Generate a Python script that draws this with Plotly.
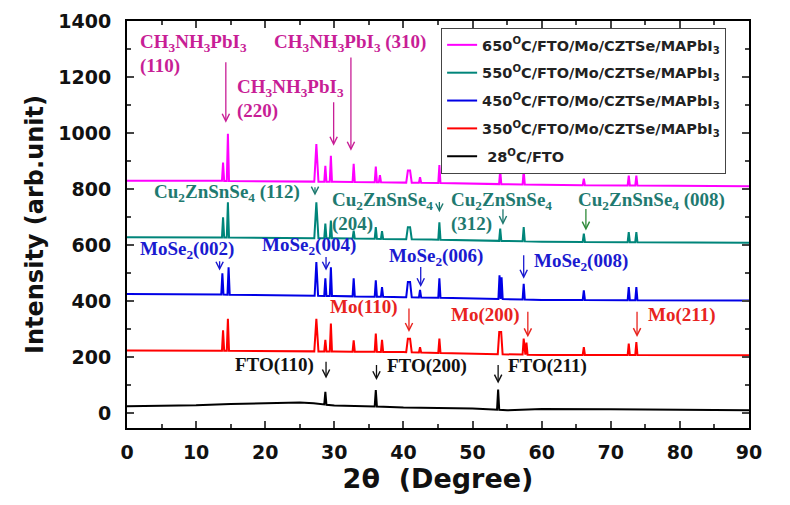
import numpy as np
import plotly.graph_objects as go

# ---------------- data ----------------
SERIES_NAMES = [
    "650<sup>O</sup>C/FTO/Mo/CZTSe/MAPbI<sub>3</sub>",
    "550<sup>O</sup>C/FTO/Mo/CZTSe/MAPbI<sub>3</sub>",
    "450<sup>O</sup>C/FTO/Mo/CZTSe/MAPbI<sub>3</sub>",
    "350<sup>O</sup>C/FTO/Mo/CZTSe/MAPbI<sub>3</sub>",
    " 28<sup>O</sup>C/FTO",
]

# background level (2theta, intensity) for each pattern
bg_650_x = [0, 10, 20, 30, 44, 60, 90]
bg_650_y = [830, 830, 828, 826, 822, 815, 810]
bg_550_x = [0, 10, 20, 30, 44, 60, 90]
bg_550_y = [628, 628, 626, 624, 620, 612, 608]
bg_450_x = [0, 10, 20, 30, 40, 50, 60, 90]
bg_450_y = [425, 424, 422, 418, 414, 410, 404, 402]
bg_350_x = [0, 10, 20, 30, 40, 50, 60, 90]
bg_350_y = [224, 223, 222, 220, 218, 212, 208, 207]
bg_28_x = [0, 10, 15, 20, 25, 27, 30, 35, 40, 50, 53, 55, 60, 70, 80, 90]
bg_28_y = [25, 28, 33, 36, 38, 35, 27, 25, 20, 17, 13, 10, 15, 14, 12, 10]

# peak positions (2theta) and peak-top intensities
pk_650_x = [13.9, 14.6, 27.4, 28.7, 29.5, 32.8, 36.0, 36.6, 40.8, 42.4, 45.2, 54.0, 57.4, 66.1, 72.6, 73.7]
pk_650_y = [895, 997, 961, 883, 919, 890, 880, 850, 866, 842, 886, 866, 866, 837, 848, 848]
pk_550_x = [13.9, 14.6, 27.4, 28.7, 29.5, 32.8, 36.0, 36.9, 40.8, 45.2, 54.0, 57.4, 66.1, 72.6, 73.7]
pk_550_y = [699, 753, 753, 677, 688, 652, 664, 650, 664, 681, 659, 664, 641, 646, 646]
pk_450_x = [13.8, 14.7, 27.4, 28.7, 29.5, 32.8, 36.0, 36.9, 40.8, 42.4, 45.2, 53.9, 54.2, 57.4, 66.1, 72.6, 73.7]
pk_450_y = [499, 521, 539, 481, 521, 481, 474, 450, 468, 440, 481, 492, 485, 462, 438, 450, 450]
pk_350_x = [13.9, 14.6, 27.4, 28.7, 29.5, 32.8, 36.0, 36.9, 40.8, 42.4, 45.2, 54.0, 57.4, 57.8, 66.1, 72.6, 73.7]
pk_350_y = [296, 337, 337, 262, 320, 260, 284, 262, 266, 235, 266, 290, 266, 252, 236, 248, 254]
pk_28_x = [28.7, 36.0, 53.7]
pk_28_y = [76, 82, 84]

# peak half-widths (degrees); broad peaks per pattern
broad_650 = {27.4: 0.3, 40.8: 0.4}
broad_550 = {27.4: 0.3, 40.8: 0.4}
broad_450 = {27.4: 0.25, 40.8: 0.4}
broad_350 = {27.4: 0.3, 40.8: 0.4, 54.0: 0.35}
broad_28 = {}
NARROW_HW = 0.16

COLORS = ["#ff00ff", "#00857a", "#0000e6", "#ff0000", "#000000"]


def pattern(bgx, bgy, px, py, broad):
    pts = list(zip(bgx, bgy))
    for p, top in zip(px, py):
        hw = broad.get(p, NARROW_HW)
        b1 = float(np.interp(p - hw, bgx, bgy))
        b2 = float(np.interp(p + hw, bgx, bgy))
        if p in broad and p != 27.4:
            pts += [(p - hw, b1), (p - hw * 0.4, top), (p + hw * 0.4, top), (p + hw, b2)]
        else:
            pts += [(p - hw, b1), (p, top), (p + hw, b2)]
    pts.sort(key=lambda t: t[0])
    return [t[0] for t in pts], [t[1] for t in pts]


series = [
    (bg_650_x, bg_650_y, pk_650_x, pk_650_y, broad_650),
    (bg_550_x, bg_550_y, pk_550_x, pk_550_y, broad_550),
    (bg_450_x, bg_450_y, pk_450_x, pk_450_y, broad_450),
    (bg_350_x, bg_350_y, pk_350_x, pk_350_y, broad_350),
    (bg_28_x, bg_28_y, pk_28_x, pk_28_y, broad_28),
]

fig = go.Figure()
for i, (name, s, col) in enumerate(zip(SERIES_NAMES, series, COLORS)):
    x, y = pattern(*s)
    fig.add_trace(go.Scatter(x=x, y=y, mode="lines", name=name, legendgroup=f"g{i}",
                             line=dict(color=col, width=2)))

# ---------------- annotations ----------------
SERIF = "Liberation Serif"
FS = 19
C_MAG = "#c81e96"
C_TEAL = "#1f7a70"
C_BLUE = "#1a1ad0"
C_RED = "#e8231e"
C_BLK = "#111111"

CH = "CH<sub>3</sub>NH<sub>3</sub>PbI<sub>3</sub>"
CZ = "Cu<sub>2</sub>ZnSnSe<sub>4</sub>"
MS = "MoSe<sub>2</sub>"

labels = [
    (CH, 1.6, 1320, C_MAG), ("(110)", 1.6, 1240, C_MAG),
    (CH + " (310)", 21.0, 1320, C_MAG),
    (CH, 15.6, 1162, C_MAG), ("(220)", 15.6, 1080, C_MAG),
    (CZ + " (112)", 3.6, 787, C_TEAL),
    (CZ, 29.4, 758, C_TEAL), ("(204)", 29.4, 676, C_TEAL),
    (CZ, 46.6, 758, C_TEAL), ("(312)", 46.6, 676, C_TEAL),
    (CZ + " (008)", 65.0, 759, C_TEAL),
    (MS + "(002)", 1.6, 583, C_BLUE),
    (MS + "(004)", 19.2, 595, C_BLUE),
    (MS + "(006)", 37.6, 557, C_BLUE),
    (MS + "(008)", 58.6, 538, C_BLUE),
    ("Mo(110)", 29.1, 379, C_RED),
    ("Mo(200)", 46.6, 352, C_RED),
    ("Mo(211)", 75.1, 352, C_RED),
    ("FTO(110)", 15.4, 171, C_BLK),
    ("FTO(200)", 37.3, 167, C_BLK),
    ("FTO(211)", 54.9, 167, C_BLK),
]
for txt, x, y, c in labels:
    fig.add_annotation(x=x, y=y, text=f"<b>{txt}</b>", showarrow=False, xanchor="left",
                       yanchor="middle", font=dict(family=SERIF, size=FS, color=c))

# arrows: (x, tail_y, tip_y, color)
arrows = [
    (14.3, 1258, 1037, C_MAG), (29.9, 1115, 955, C_MAG), (32.4, 1275, 937, C_MAG),
    (27.2, 812, 777, C_TEAL), (45.2, 759, 717, C_TEAL), (54.4, 733, 672, C_TEAL),
    (66.4, 734, 652, "#2f8a3a"),
    (13.4, 548, 509, C_BLUE), (28.8, 563, 509, C_BLUE), (42.5, 527, 450, C_BLUE),
    (57.4, 569, 480, C_BLUE),
    (40.8, 379, 290, C_RED), (58.0, 367, 271, C_RED), (73.8, 367, 272, C_RED),
    (28.8, 189, 124, C_BLK), (36.1, 177, 118, C_BLK), (53.7, 177, 106, C_BLK),
]
for x, ty, hy, c in arrows:
    fig.add_annotation(x=x, y=hy, ax=x, ay=ty, axref="x", ayref="y", text="",
                       showarrow=True, arrowhead=5, arrowsize=1.1, arrowwidth=1.3,
                       arrowcolor=c)

AXFONT = dict(family="DejaVu Sans", size=19, color="#111", weight="bold")
# the page body adds an 8 px offset, so the figure is 8 px smaller on each side
fig.update_layout(
    width=782, height=497,
    margin=dict(l=119, r=41, t=13, b=77, autoexpand=False),
    paper_bgcolor="white", plot_bgcolor="white",
    showlegend=True,
    legend=dict(x=0.505, y=0.983, xanchor="left", yanchor="top",
                bgcolor="white", bordercolor="#444", borderwidth=1,
                traceorder="grouped", tracegroupgap=6,
                font=dict(family="DejaVu Sans", size=14.5, color="#222", weight="bold")),
    xaxis=dict(range=[0, 90], dtick=10, tick0=0, ticks="inside", ticklen=7, tickwidth=1.5,
               showline=True, linecolor="black", linewidth=2, mirror="ticks",
               showgrid=False, zeroline=False, tickfont=AXFONT, ticklabelstandoff=6,
               automargin=False,
               minor=dict(dtick=5, ticks="inside", ticklen=4, tickwidth=1.5),
               title=dict(text="2θ\u00a0\u00a0(Degree)", standoff=6,
                          font=dict(family="DejaVu Sans", size=27, color="#111", weight="bold"))),
    yaxis=dict(range=[-53, 1400], dtick=200, tick0=0, ticks="inside", ticklen=7, tickwidth=1.5,
               showline=True, linecolor="black", linewidth=2, mirror="ticks",
               showgrid=False, zeroline=False, tickfont=AXFONT, ticklabelstandoff=10,
               automargin=False,
               minor=dict(dtick=100, ticks="inside", ticklen=4, tickwidth=1.5),
               title=dict(text="Intensity (arb.unit)", standoff=8,
                          font=dict(family="DejaVu Sans", size=24, color="#111", weight="bold"))),
)

fig.write_html("out.html")
